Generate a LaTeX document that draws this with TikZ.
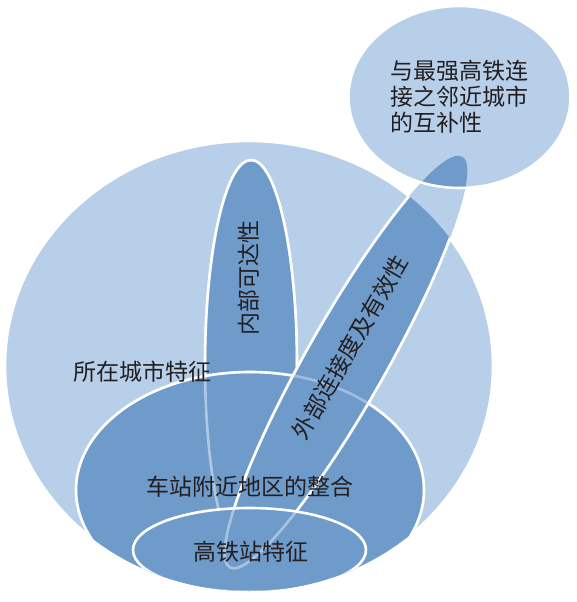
\documentclass[tikz,border=0pt]{standalone}
\usepackage{fontspec}
\newfontfamily\cjk{Noto Sans CJK SC}
\definecolor{lightb}{HTML}{B7CFE9}
\definecolor{darkb}{HTML}{6F9BCB}
\definecolor{txt}{HTML}{231F20}
\begin{document}
\begin{tikzpicture}[x=1pt,y=-1pt,
  outl/.style={draw=white, line width=2.6pt},
  lbl/.style={font=\cjk\fontsize{23}{26}\selectfont, text=txt, inner sep=0pt},
  bigE/.style={insert path={(249,366) ellipse [x radius=244, y radius=225]}},
  topC/.style={insert path={(459.5,97) ellipse [x radius=111, y radius=91]}},
  midE/.style={insert path={(250,490) ellipse [x radius=174, y radius=118]}},
  smE/.style={insert path={(249.5,550) ellipse [x radius=116.5, y radius=42]}},
  vertE/.style={insert path={(251,364.5) ellipse [x radius=46, y radius=204.5]}},
  diagE/.style={rotate around={60.5:(346,362)}, insert path={(346,362) ellipse [x radius=236, y radius=40]}},
]
\useasboundingbox (0,0) rectangle (576,602);
% outer shapes
\fill[lightb, bigE];
\draw[outl, bigE];
\fill[lightb, topC];
\fill[lightb, diagE];
\begin{scope}
  \clip[topC];
  \fill[darkb, diagE];
\end{scope}
\draw[outl, topC];
% inner shapes, clipped to the big ellipse
\begin{scope}
  \clip[bigE];
  \fill[darkb, vertE];
  \draw[outl, vertE];
  \fill[darkb, midE];
  \draw[outl, midE];
  \draw[outl, draw opacity=0.45, vertE];
  \fill[darkb, diagE];
  \draw[outl, draw opacity=0.35, midE];
  \draw[outl, diagE];
  \fill[darkb, smE];
  \draw[outl, draw opacity=0.4, diagE];
  \draw[outl, smE];
\end{scope}
% labels
\node[lbl, anchor=west, align=left] (tc) at (390,97) {与最强高铁连\\接之邻近城市\\的互补性};
\node[lbl] (city) at (142.5,372) {所在城市特征};
\node[lbl, rotate=90] (inner) at (249,277.5) {内部可达性};
\node[lbl, rotate=60] (outer) at (350,347) {外部连接度及有效性};
\node[lbl] (area) at (250,487) {车站附近地区的整合};
\node[lbl] (hsr) at (250.5,552) {高铁站特征};
\end{tikzpicture}
\end{document}
